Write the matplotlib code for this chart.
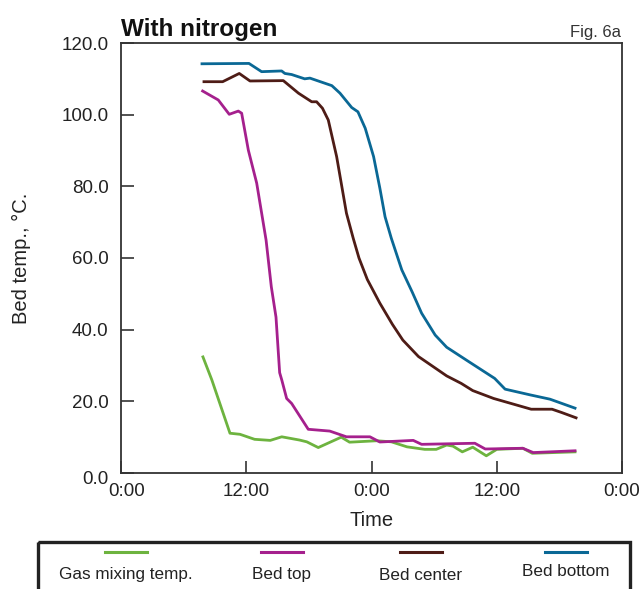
import matplotlib
matplotlib.use("Agg")
import matplotlib.pyplot as plt
from matplotlib.lines import Line2D
from matplotlib.patches import Rectangle
from matplotlib.transforms import ScaledTranslation

# Elapsed time (hours) and temperatures (°C) for each sensor
gas_t = [7.85, 8.7, 10.44, 11.4, 12.8, 14.3, 15.4, 17.1, 17.8, 18.9, 21.1, 21.9,
         24.5, 25.9, 27.4, 29.1, 30.2, 31.2, 31.8, 32.7, 33.7, 35.0, 36.0, 38.5,
         39.4, 43.5]
gas_v = [32.4, 26.0, 11.1, 10.8, 9.4, 9.1, 10.1, 9.2, 8.7, 7.1, 10.0, 8.6,
         9.0, 8.7, 7.3, 6.6, 6.6, 7.8, 7.5, 5.9, 7.2, 4.8, 6.6, 6.9,
         5.5, 5.9]

top_t = [7.82, 9.32, 10.37, 11.24, 11.56, 12.2, 13.0, 13.9, 14.4, 14.85, 15.2,
         15.4, 15.87, 16.35, 17.94, 20.0, 21.6, 23.85, 24.8, 28.0, 28.8, 33.9,
         34.9, 38.5, 39.5, 43.5]
top_v = [106.6, 104.1, 100.1, 101.0, 100.4, 90.1, 80.9, 65.0, 52.0, 43.5, 28.0,
         26.0, 20.8, 19.4, 12.2, 11.7, 10.1, 10.1, 8.65, 9.1, 8.0, 8.3,
         6.7, 6.9, 5.7, 6.2]

center_t = [7.95, 9.74, 11.33, 12.36, 15.55, 17.0, 18.27, 18.74, 19.3, 19.86,
            20.66, 21.6, 22.25, 22.8, 23.6, 24.8, 26.0, 27.0, 28.5, 31.2, 32.6,
            33.7, 35.7, 39.3, 41.3, 42.2, 43.6]
center_v = [109.2, 109.2, 111.5, 109.4, 109.5, 106.0, 103.6, 103.6, 101.8, 98.5,
            88.3, 72.5, 65.5, 60.0, 54.0, 47.4, 41.5, 37.1, 32.5, 27.1, 25.0,
            23.0, 20.8, 17.8, 17.8, 16.9, 15.4]

bottom_t = [7.76, 12.26, 13.47, 15.39, 15.7, 16.35, 17.6, 18.1, 20.2, 20.98,
            22.1, 22.7, 23.4, 24.2, 24.8, 25.3, 25.9, 26.9, 27.9, 28.8, 30.1,
            31.2, 33.2, 35.8, 36.8, 39.2, 41.1, 43.5]
bottom_v = [114.2, 114.3, 112.0, 112.2, 111.5, 111.2, 110.0, 110.2, 108.1, 106.0,
            102.0, 100.8, 96.2, 88.3, 79.5, 71.5, 65.5, 56.7, 50.5, 44.6, 38.5,
            35.1, 31.3, 26.4, 23.4, 21.8, 20.6, 18.1]

labels = ["Gas mixing temp.", "Bed top", "Bed center", "Bed bottom"]
colors = ["#6db33f", "#a5208d", "#4e1c16", "#0a6895"]

x_ticks = [0, 12, 24, 36, 48]
x_ticklabels = ["0:00", "12:00", "0:00", "12:00", "0:00"]
y_ticks = [0, 20, 40, 60, 80, 100, 120]

fig = plt.figure(figsize=(6.41, 5.89), dpi=100)
ax = fig.add_axes([121 / 641, 1 - 473 / 589, 501 / 641, 430 / 589])

series = [(gas_t, gas_v), (top_t, top_v), (center_t, center_v), (bottom_t, bottom_v)]
for (t, v), c, lab in zip(series, colors, labels):
    ax.plot(t, v, color=c, lw=2.0, label=lab)

ax.set_xlim(0, 48)
ax.set_ylim(0, 120)
ax.set_xticks(x_ticks)
ax.set_xticklabels(x_ticklabels)
ax.set_yticks(y_ticks)
ax.set_yticklabels([f"{v:.1f}" for v in y_ticks])

spine_c = "#333333"
for s in ax.spines.values():
    s.set_color(spine_c)
    s.set_linewidth(1.3)

ax.tick_params(axis="both", direction="in", length=9, width=1.2, color=spine_c,
               labelsize=13.5, labelcolor="#222222")
ax.tick_params(axis="x", pad=7)
ax.tick_params(axis="y", pad=9)
for lbl in ax.get_yticklabels() + ax.get_xticklabels():
    lbl.set_fontfamily("Liberation Sans")

# keep the two labels at the origin apart
y0 = ax.get_yticklabels()[0]
y0.set_transform(y0.get_transform() + ScaledTranslation(0, -5 / 100, fig.dpi_scale_trans))
x0 = ax.get_xticklabels()[0]
x0.set_transform(x0.get_transform() + ScaledTranslation(6 / 100, 0, fig.dpi_scale_trans))

ax.set_xlabel("Time", fontsize=14.5, family="Liberation Sans", labelpad=8, color="#222222")
ax.set_ylabel("Bed temp., °C.", fontsize=14.5, family="Liberation Sans", labelpad=22,
              color="#222222")

fig.text(121 / 641, 1 - 36 / 589, "With nitrogen", fontsize=17.5, fontweight="bold",
         family=["Liberation Sans Narrow", "Liberation Sans"], ha="left", va="baseline",
         color="#111111")
fig.text(621 / 641, 1 - 37 / 589, "Fig. 6a", fontsize=12,
         family=["Liberation Sans Narrow", "Liberation Sans"], ha="right", va="baseline",
         color="#333333")

# Legend panel along the bottom edge
lax = fig.add_axes([0, 0, 1, 1], facecolor="none")
lax.set_xlim(0, 641)
lax.set_ylim(589, 0)
lax.set_axis_off()
lax.add_patch(Rectangle((38, 542), 592, 60, fill=False, edgecolor="#222222", lw=2.4,
                        clip_on=False))
centers = [126, 282, 421, 566]
label_y = [575, 575, 575, 572]
for cx, ly, c, lab in zip(centers, label_y, colors, labels):
    lax.add_line(Line2D([cx - 21, cx + 21], [552, 552], color=c, lw=2.2))
    lax.text(cx, ly, lab, ha="center", va="center", fontsize=12.3,
             family="Liberation Sans", color="#222222")

fig.savefig("out.png", dpi=100)
